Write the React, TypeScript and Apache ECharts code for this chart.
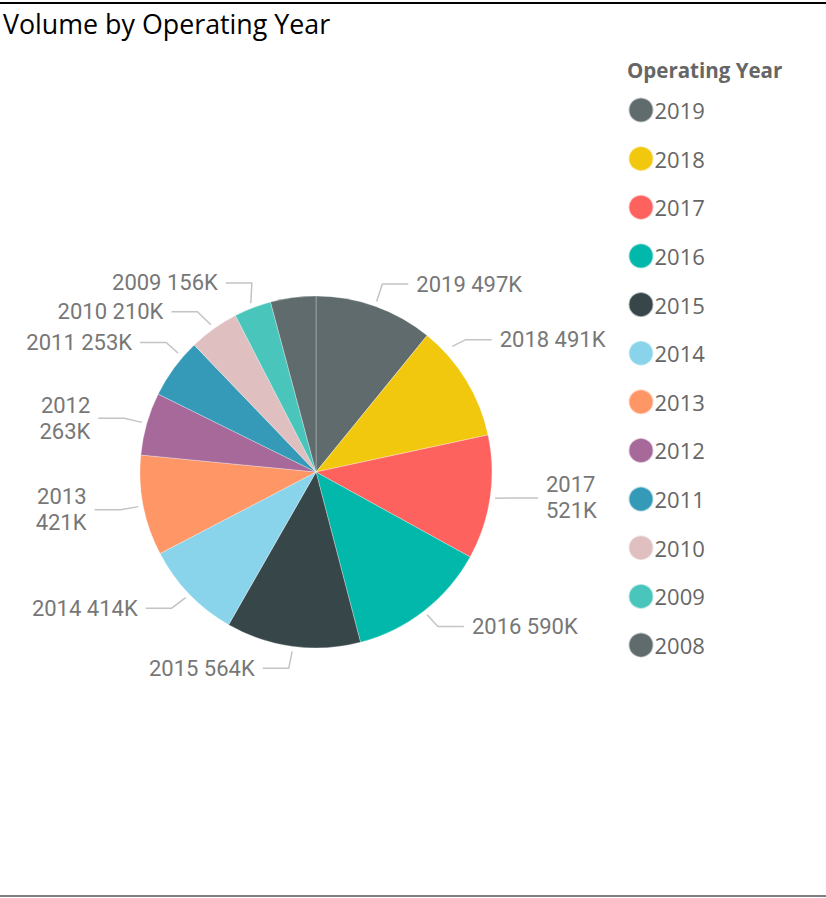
import React, { useEffect, useRef } from "react";
import * as echarts from "echarts";

const years = ["2019", "2018", "2017", "2016", "2015", "2014", "2013", "2012", "2011", "2010", "2009", "2008"];
const volumes = [497, 491, 521, 590, 564, 414, 421, 263, 253, 210, 156, 190];
const colors = ["#5F6B6D", "#F2C80F", "#FD625E", "#01B8AA", "#374649", "#8AD4EB", "#FE9666", "#A66999", "#3599B8", "#DFBFBF", "#4AC5BB", "#5F6B6D"];
const wrappedYears = ["2017", "2013", "2012"];
const hiddenLabelYears = ["2008"];

// per-label nudges (label + elbow) and line-start nudges, like Power BI's collision layout
const labelOffsets: Record<string, [number, number]> = {
  "2019": [2, -7],
  "2018": [-14, -32],
  "2017": [6, -2],
  "2016": [4, 3],
  "2015": [-2, 6],
  "2014": [-6, 3],
  "2013": [-7, 1],
  "2012": [-7, -1],
  "2011": [5, -16],
  "2010": [-7, -4],
  "2009": [5, -10],
};
const lineStartOffsets: Record<string, [number, number]> = {
  "2018": [-18, -31],
  "2011": [8, -12],
};

export default function App() {
  const ref = useRef<HTMLDivElement>(null);
  useEffect(() => {
    const chart = echarts.init(ref.current!, undefined, { renderer: "svg" });
    const data = years.map((y, i) => ({
      name: y,
      value: volumes[i],
      itemStyle: { color: colors[i] },
      label: { show: !hiddenLabelYears.includes(y) },
      labelLine: { show: !hiddenLabelYears.includes(y) },
    }));
    const DIST = 8;
    chart.setOption({
      animation: false,
      title: [
        {
          text: "Volume by Operating Year",
          left: -2,
          top: 5,
          textStyle: { fontFamily: "Open Sans", fontSize: 26.8, fontWeight: "normal", color: "#000" },
        },
        {
          text: "Operating Year",
          left: 622,
          top: 54,
          textStyle: { fontFamily: "Open Sans", fontSize: 20.5, fontWeight: "bold", color: "#666" },
        },
      ],
      legend: {
        orient: "vertical",
        left: 627.5,
        top: 96.5,
        padding: 0,
        icon: "circle",
        itemWidth: 25,
        itemHeight: 25,
        itemGap: 21.64,
        data: years,
        textStyle: { fontFamily: "Open Sans", fontSize: 22, color: "#666", lineHeight: 22, padding: [0, 0, 0, -4] },
      },
      graphic: [
        { type: "line", shape: { x1: 0, y1: 3, x2: 826, y2: 3 }, style: { stroke: "#000", lineWidth: 2 } },
        { type: "line", shape: { x1: 0, y1: 896, x2: 826, y2: 896 }, style: { stroke: "#555", lineWidth: 1.5 } },
      ],
      series: [
        {
          type: "pie",
          center: [316, 472],
          radius: [0, 176],
          startAngle: 90,
          clockwise: true,
          avoidLabelOverlap: false,
          data,
          itemStyle: { borderColor: "rgba(255,255,255,0.6)", borderWidth: 0.5 },
          label: {
            fontFamily: "Roboto",
            fontSize: 22,
            color: "#777",
            lineHeight: 26,
            distanceToLabelLine: DIST,
            formatter: (p: any) =>
              wrappedYears.includes(p.name) ? `${p.name}\n${p.value}K` : `${p.name} ${p.value}K`,
          },
          labelLine: {
            length: 16,
            length2: 26,
            lineStyle: { color: "#c4c4c4", width: 1.5 },
          },
          labelLayout: (p: any) => {
            const name = years[p.dataIndex];
            const [dx, dy] = labelOffsets[name] || [0, 0];
            const pts = p.labelLinePoints;
            if (!pts || pts.length < 3) return {};
            const [s, e, t] = pts;
            const vx = e[0] - s[0];
            const vy = e[1] - s[1];
            const len = Math.hypot(vx, vy) || 1;
            const so = lineStartOffsets[name] || [0, 0];
            const start = [s[0] + (5 * vx) / len + so[0], s[1] + (5 * vy) / len + so[1]];
            const goesLeft = t[0] < e[0];
            return {
              x: t[0] + dx + (goesLeft ? -DIST : DIST),
              y: t[1] + dy,
              labelLinePoints: [start, [e[0] + dx, e[1] + dy], [t[0] + dx, t[1] + dy]],
            };
          },
        },
      ],
    });
    return () => chart.dispose();
  }, []);
  return <div ref={ref} style={{ position: "absolute", left: 0, top: 0, width: 826, height: 898 }} />;
}
